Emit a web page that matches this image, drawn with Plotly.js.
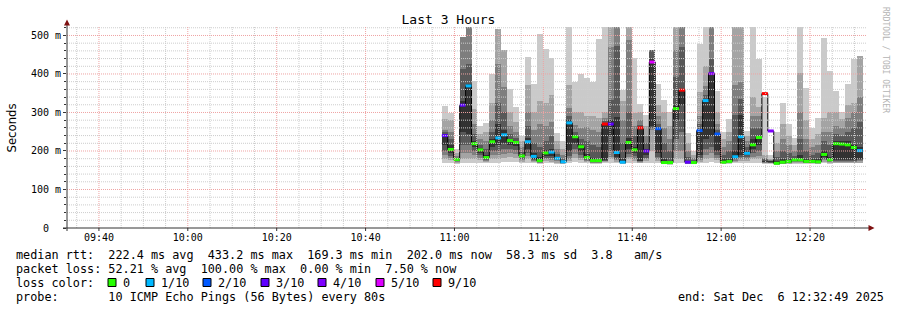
<!DOCTYPE html>
<html><head><meta charset="utf-8">
<script src="https://cdn.plot.ly/plotly-3.0.1.min.js"></script>
<style>html,body{margin:0;padding:0;background:#fff;}#chart{width:897px;height:310px;}</style>
</head><body><div id="chart"></div>
<script>
// ---- data (RTT in ms, one entry per 80 s probe round) ----
const firstIntervalStart = '2025-12-06 10:57:10';
const stepSeconds = 80;
const lossCount = [3,0,0,3,1,0,0,0,0,1, 1,0,0,0,1,1,0,0,1,1, 1,1,0,0,0,0,0,9,3,1, 1,0,0,9,3,5,2,0,0,0, 9,3,0,2,1,4,2,0,0,1, 1,1,0,0,9,4,0,0,0,0, 0,0,0,0,0,0,0,0,0,0, 1];
const median = [240,204,178,319,369,219,203,183,224,234, 242,227,222,187,224,186,175,195,197,181, 172,273,237,211,183,175,175,270,270,196, 171,222,203,260,200,431,258,170,170,310, 358,171,170,253,331,401,244,171,173,185, 237,194,216,235,349,252,168,171,173,177, 177,173,173,172,191,177,219,218,216,209, 201];
const ping1 = [170,170,167,170,170,168,170,168,170,170, 172,172,172,168,170,168,167,168,168,167, 165,168,172,170,168,166,166,168,170,168, 165,170,170,168,170,170,170,165,164,170, 170,165,165,168,170,172,170,165,166,168, 170,168,170,170,167,167,163,165,166,167, 167,166,166,165,168,167,168,168,168,168, 168];
const ping2 = [180,176,170,180,180,180,177,172,180,180, 182,185,183,172,180,171,169,173,172,170, 167,174,183,176,171,168,168,171,178,172, 167,178,175,170,174,200,175,166,165,180, 180,166,166,172,180,182,176,167,168,172, 175,175,178,178,169,168,164,166,167,169, 169,168,168,167,172,169,170,170,170,170, 170];
const ping3 = [190,182,172,195,195,190,183,174,190,190, 192,195,193,176,188,174,170,178,177,173, 168,180,193,183,174,170,170,173,185,176, 168,185,180,172,178,255,180,167,166,200, 200,167,167,176,190,195,182,168,169,175, 180,180,185,188,170,169,165,167,168,171, 171,169,169,168,176,171,172,172,172,172, 173];
const ping4 = [200,188,174,215,215,200,190,177,200,200, 205,205,203,180,195,177,172,183,182,176, 169,188,205,190,177,172,171,175,200,180, 169,193,188,173,183,260,185,168,167,230, 250,168,168,182,205,210,190,169,171,178, 185,185,195,200,171,170,166,168,170,173, 173,170,170,169,180,173,174,174,174,174, 176];
const ping5 = [215,195,176,250,245,210,195,180,210,215, 220,215,212,184,205,180,173,188,188,178, 170,200,220,200,180,173,173,177,240,185, 170,205,195,175,190,265,195,169,168,280, 320,169,169,190,230,240,200,170,172,182, 190,190,205,215,172,171,167,169,171,175, 175,171,171,170,185,175,176,176,176,176, 180];
const ping6 = [245,215,180,330,375,225,208,190,230,270, 255,232,226,190,235,195,185,202,205,185, 175,280,240,216,192,182,180,272,280,289, 180,235,210,262,205,440,262,180,175,320, 360,175,172,258,335,405,248,178,180,200, 293,200,230,240,175,173,175,180,180,180, 190,180,178,178,200,185,225,225,225,215, 210];
const ping7 = [250,230,183,412,425,245,215,205,250,324, 300,245,235,198,265,220,210,225,240,192, 180,290,250,230,225,215,210,278,332,473, 220,300,240,268,220,462,270,220,200,393, 470,185,176,270,345,440,255,190,200,293, 335,210,260,260,178,175,185,200,195,188, 230,200,190,195,225,215,245,240,250,260, 275];
const ping8 = [255,250,188,497,530,270,230,225,280,425, 367,265,250,210,300,255,270,265,276,205, 190,311,268,260,262,255,250,285,470,530, 280,488,265,280,240,462,290,260,230,462, 530,200,182,290,370,530,270,210,225,371, 380,225,290,290,182,177,200,230,215,200, 300,230,210,215,250,250,265,260,285,300, 340];
const ping9 = [283,280,195,497,530,310,245,250,324,518, 462,300,275,225,371,300,330,324,345,225, 205,371,300,300,290,290,285,300,530,530, 330,530,298,300,265,462,320,300,265,530, 530,220,190,354,420,530,300,230,250,530, 530,240,341,315,190,180,220,270,240,215, 402,280,230,245,285,300,300,282,320,325, 447];
const ping10 = [318,298,205,497,530,382,265,273,399,518, 462,361,315,240,445,373,504,466,442,248, 226,530,380,401,390,380,490,530,530,530, 358,530,442,322,293,462,373,332,300,530, 530,246,200,478,530,530,356,250,283,530, 530,252,530,440,340,190,250,324,270,233, 530,364,260,285,493,408,357,300,375,440, 447];

const lossLevels = [0,1,2,3,4,5,9];
const lossLabels = ['0','1/10','2/10','3/10','4/10','5/10','9/10'];
const lossColors = ['#26ff00','#00b8ff','#0059ff','#5e00ff','#7e00ff','#dd00ff','#ff0000'];
const smokeColors = ['#cacaca','#a4a4a4','#7e7e7e','#585858','#323232'];

const yTickVals = [0,100,200,300,400,500];
const yTickText = ['0\u00a0\u00a0','100 m','200 m','300 m','400 m','500 m'];
const xRange = ['2025-12-06 09:32:49','2025-12-06 12:32:49'];
const yRange = [0, 522];

const legendRtt = 'median rtt:  222.4 ms avg  433.2 ms max  169.3 ms min  202.0 ms now  58.3 ms sd  3.8   am/s';
const legendLoss = 'packet loss: 52.21 % avg  100.00 % max  0.00 % min  7.50 % now';
const legendColor = 'loss color:';
const legendProbe = 'probe:       10 ICMP Echo Pings (56 Bytes) every 80s';
const legendEnd = 'end: Sat Dec  6 12:32:49 2025';
const titleText = 'Last 3 Hours';
const yTitle = 'Seconds';
const watermark = 'RRDTOOL / TOBI OETIKER';

// ---- build ----
const W = 897, H = 310, L = 67, R = 30, T = 27, B = 82;
const pw = W - L - R, ph = H - T - B;
const px = X => (X - L) / pw;
const py = Y => (H - B - Y) / ph;
const nb = s => s.replace(/ /g, '\u00a0');
const mono = 'DejaVu Sans Mono, monospace';

const p = firstIntervalStart.split(/[- :]/).map(Number);
const t0 = Date.UTC(p[0], p[1]-1, p[2], p[3], p[4], p[5]);
const fmt = ms => new Date(ms).toISOString().slice(0,19).replace('T',' ');
const n = median.length;
const stepMs = stepSeconds * 1000;
const centers = [], lefts = [], rights = [];
for (let k = 0; k < n; k++) {
  lefts.push(fmt(t0 + k*stepMs));
  rights.push(fmt(t0 + (k+1)*stepMs));
  centers.push(fmt(t0 + k*stepMs + stepMs/2));
}

const pings = [ping1,ping2,ping3,ping4,ping5,ping6,ping7,ping8,ping9,ping10];
const traces = [];
for (let i = 0; i < 5; i++) {
  const lo = pings[i], hi = pings[9-i];
  traces.push({type:'bar', x:centers, base:lo, y:hi.map((v,k)=>v-lo[k]), width:stepMs,
    marker:{color:smokeColors[i], line:{width:0}}, hoverinfo:'skip', showlegend:false});
}
// black median step line
traces.push({type:'scatter', mode:'lines', x:lefts.concat([rights[n-1]]), y:median.concat([median[n-1]]),
  line:{color:'#000', width:1, shape:'hv'}, hoverinfo:'skip', showlegend:false});
// colored median segments by loss
lossLevels.forEach((lv, j) => {
  const xs = [], ys = [];
  for (let k = 0; k < n; k++) if (lossCount[k] === lv) { xs.push(lefts[k], rights[k], null); ys.push(median[k], median[k], null); }
  if (xs.length) traces.push({type:'scatter', mode:'lines', x:xs, y:ys, line:{color:lossColors[j], width:3},
    hoverinfo:'skip', showlegend:false, connectgaps:false});
});

const shapes = [];
// grid (drawn above the data, like rrdtool)
const gx0 = Date.UTC(2025,11,6,9,35,0), gx1 = Date.UTC(2025,11,6,12,32,0);
const minorV = [], majorV = [];
for (let t = gx0; t <= gx1; t += 300000) {
  const m = new Date(t).getUTCMinutes();
  (m % 20 === 0 ? majorV : minorV).push(fmt(t));
}
const minorH = [], majorH = [];
for (let v = 20; v <= 520; v += 20) (v % 100 === 0 ? majorH : minorH).push(v);
const minorLine = {color:'#cdcdcd', width:1, dash:'1px,1px'};
const majorLine = {color:'#efa3a3', width:1, dash:'1px,1px'};
minorV.forEach(x => shapes.push({type:'line', xref:'x', yref:'paper', x0:x, x1:x, y0:0, y1:1, line:minorLine, layer:'above'}));
minorH.forEach(y => shapes.push({type:'line', xref:'paper', yref:'y', x0:0, x1:1, y0:y, y1:y, line:minorLine, layer:'above'}));
majorV.forEach(x => shapes.push({type:'line', xref:'x', yref:'paper', x0:x, x1:x, y0:0, y1:1, line:majorLine, layer:'above'}));
majorH.forEach(y => shapes.push({type:'line', xref:'paper', yref:'y', x0:0, x1:1, y0:y, y1:y, line:majorLine, layer:'above'}));
// axes with arrows
const axisCol = '#333333', arrowCol = '#7f1010';
shapes.push({type:'line', xref:'paper', yref:'paper', x0:px(67), x1:px(67), y0:py(231), y1:py(24), line:{color:axisCol, width:1}, layer:'above'});
shapes.push({type:'line', xref:'paper', yref:'paper', x0:px(63), x1:px(870), y0:py(228), y1:py(228), line:{color:axisCol, width:1}, layer:'above'});
shapes.push({type:'path', xref:'paper', yref:'paper', layer:'above', fillcolor:arrowCol, line:{width:0},
  path:`M ${px(64)} ${py(25.5)} L ${px(70)} ${py(25.5)} L ${px(67)} ${py(19.5)} Z`});
shapes.push({type:'path', xref:'paper', yref:'paper', layer:'above', fillcolor:arrowCol, line:{width:0},
  path:`M ${px(868.5)} ${py(225)} L ${px(868.5)} ${py(231)} L ${px(874.5)} ${py(228)} Z`});
// small x tick marks below axis
shapes.push(...majorV.map(x => ({type:'line', xref:'x', yref:'paper', x0:x, x1:x, y0:py(228), y1:py(231), line:{color:axisCol, width:1}})));

const annotations = [];
const txt = (s, X, Y, extra) => annotations.push(Object.assign({text:nb(s), xref:'paper', yref:'paper', x:px(X), y:py(Y),
  xanchor:'left', yanchor:'middle', showarrow:false, borderpad:0, font:{family:mono, size:11.8, color:'#000'}}, extra||{}));
txt(legendRtt, 15, 254.5);
txt(legendLoss, 15, 268.5);
txt(legendColor, 15, 282.5);
txt(legendProbe, 15, 296.5);
txt(legendEnd, 677, 296.5);
const sqX = [108,146,203,261,318,376,433];
lossLabels.forEach((lab, j) => {
  shapes.push({type:'rect', xref:'paper', yref:'paper', x0:px(sqX[j]), x1:px(sqX[j]+8), y0:py(286.5), y1:py(278.5),
    fillcolor:lossColors[j], line:{color:'#000', width:1}});
  txt(lab, sqX[j]+14, 282.5);
});
annotations.push({text:yTitle, xref:'paper', yref:'paper', x:px(11), y:py(127.5), xanchor:'center', yanchor:'middle',
  textangle:-90, showarrow:false, font:{family:'DejaVu Sans, sans-serif', size:11.7, color:'#000'}});
annotations.push({text:nb(watermark), xref:'paper', yref:'paper', x:px(886), y:py(60), xanchor:'center', yanchor:'middle',
  textangle:90, showarrow:false, font:{family:mono, size:8, color:'#b4b4b4'}});

const layout = {
  width:W, height:H, margin:{l:L, r:R, t:T, b:B},
  paper_bgcolor:'#fff', plot_bgcolor:'#fff',
  title:{text:titleText, x:0.5, xref:'container', xanchor:'center', y:1-19/H, yref:'container', yanchor:'middle',
    font:{family:mono, size:13, color:'#000'}},
  barmode:'overlay', bargap:0, showlegend:false,
  xaxis:{type:'date', range:xRange, showgrid:false, zeroline:false, showline:false,
    tick0:'2025-12-06 09:40:00', dtick:1200000, tickformat:'%H:%M', ticks:'', ticklabelstandoff:2,
    tickfont:{family:mono, size:10, color:'#000'}, fixedrange:true},
  yaxis:{range:yRange, showgrid:false, zeroline:false, showline:false, tickmode:'array', tickvals:yTickVals, ticktext:yTickText,
    ticks:'outside', ticklen:3, tickcolor:axisCol, tickfont:{family:mono, size:10, color:'#000'},
    minor:{ticks:'outside', ticklen:2, tickcolor:axisCol, dtick:20, tick0:0, showgrid:false}, fixedrange:true},
  shapes:shapes, annotations:annotations
};
Plotly.newPlot('chart', traces, layout, {staticPlot:true, displayModeBar:false});
</script></body></html>
